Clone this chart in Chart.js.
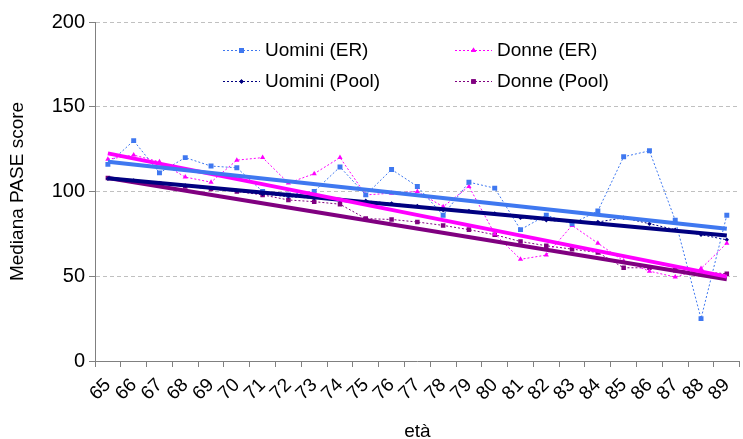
<!DOCTYPE html>
<html>
<head>
<meta charset="utf-8">
<script src="https://cdn.jsdelivr.net/npm/chart.js@4/dist/chart.umd.min.js"></script>
<style>
  html, body { margin: 0; padding: 0; background: #fff; overflow: hidden; }
  #wrap { position: relative; width: 750px; height: 439px; }
</style>
</head>
<body>
<div id="wrap"><canvas id="c"></canvas></div>
<script>
// ---- data ----
const ages = ['65','66','67','68','69','70','71','72','73','74','75','76','77','78','79','80','81','82','83','84','85','86','87','88','89'];
const uominiER   = [116, 130, 111, 120, 115, 114, 100, 98, 100, 114.5, 98, 113, 103, 86, 105.5, 102, 77.5, 86, 81, 88.5, 120.5, 124, 83, 25, 86];
const donneER    = [119, 121.5, 117.5, 108.5, 105.5, 118.5, 120, 105, 110.5, 120, 98, 99, 100, 91, 103, 75, 60, 62.5, 80, 69.5, 59, 53, 49.5, 54.5, 69.5];
const uominiPool = [107.5, 106.5, 105, 103.5, 102, 100.5, 98.5, 97, 96, 95, 94.5, 93, 91.5, 89, 88.5, 87, 84.5, 83, 82, 82, 84.5, 81, 77.5, 74.5, 71.5];
const donnePool  = [108, 106, 104.5, 103, 101.5, 100, 98, 95, 94, 92.5, 84, 83.5, 82, 80, 77.5, 74.5, 70.5, 68, 66, 64, 55, 55, 53.5, 52.5, 51.5];
// linear trend lines: value at first and last age
const trendUominiER   = [117.6, 78];
const trendDonneER    = [122.5, 49.8];
const trendUominiPool = [107.8, 74];
const trendDonnePool  = [108, 48.2];
const yTicks = [0, 50, 100, 150, 200];
const seriesNames = ['Uomini (ER)', 'Donne (ER)', 'Uomini (Pool)', 'Donne (Pool)'];

const C_BLUE = '#3f78f0', C_MAG = '#ff00ff', C_NAVY = '#000080', C_PURP = '#800080';
const FONT = '"Liberation Sans", Arial, sans-serif';

function series(label, data, color, style, r) {
  return { label, data, borderColor: color, backgroundColor: color, borderWidth: 1,
    borderDash: [2, 2], pointStyle: style, pointRadius: r, pointHoverRadius: r,
    pointBorderWidth: 0, tension: 0, fill: false, order: 2 };
}
function trend(vals, color) {
  return { label: '', data: [{x: ages[0], y: vals[0]}, {x: ages[ages.length - 1], y: vals[1]}],
    borderColor: color, borderWidth: 4, pointRadius: 0, pointHoverRadius: 0, fill: false, order: 1 };
}

const legendItems = [
  { text: seriesNames[0], color: C_BLUE, style: 'rect', r: 3.5, col: 0, row: 0 },
  { text: seriesNames[1], color: C_MAG,  style: 'triangle', r: 3, col: 1, row: 0 },
  { text: seriesNames[2], color: C_NAVY, style: 'rectRot', r: 2.2, col: 0, row: 1 },
  { text: seriesNames[3], color: C_PURP, style: 'rect', r: 3.2, col: 1, row: 1 }
];

const legendPlugin = {
  id: 'gridLegend',
  afterDraw(chart) {
    const ctx = chart.ctx;
    const colX = [223, 455];
    const rowY = [50, 81];
    ctx.save();
    legendItems.forEach(it => {
      const x0 = colX[it.col], y = rowY[it.row];
      ctx.strokeStyle = it.color; ctx.lineWidth = 1; ctx.setLineDash([2, 2]);
      ctx.beginPath(); ctx.moveTo(x0, y + 0.5); ctx.lineTo(x0 + 37, y + 0.5); ctx.stroke();
      ctx.setLineDash([]);
      ctx.fillStyle = it.color;
      Chart.helpers.drawPoint(ctx, { pointStyle: it.style, radius: it.r, rotation: 0, borderWidth: 0 }, x0 + 18.5, y + 0.5);
      ctx.fill();
      ctx.fillStyle = '#000';
      ctx.font = '19px ' + FONT;
      ctx.textBaseline = 'middle';
      ctx.textAlign = 'left';
      ctx.fillText(it.text, x0 + 42, y + 1);
    });
    ctx.restore();
  }
};

new Chart(document.getElementById('c'), {
  type: 'line',
  data: {
    labels: ages,
    datasets: [
      series(seriesNames[0], uominiER, C_BLUE, 'rect', 3.5),
      series(seriesNames[1], donneER, C_MAG, 'triangle', 3),
      series(seriesNames[2], uominiPool, C_NAVY, 'rectRot', 2.2),
      series(seriesNames[3], donnePool, C_PURP, 'rect', 3.2),
      trend(trendUominiER, C_BLUE),
      trend(trendDonneER, C_MAG),
      trend(trendUominiPool, C_NAVY),
      trend(trendDonnePool, C_PURP)
    ]
  },
  options: {
    responsive: true,
    maintainAspectRatio: false,
    animation: false,
    layout: { padding: { top: 22, right: 0, bottom: 0, left: 0 } },
    plugins: { legend: { display: false }, tooltip: { enabled: false } },
    scales: {
      x: {
        type: 'category',
        offset: true,
        grid: { offset: true, drawOnChartArea: false, drawTicks: true, tickLength: 6, color: '#808080', tickColor: '#808080' },
        border: { display: true, color: '#808080', width: 1 },
        ticks: { minRotation: 45, maxRotation: 45, autoSkip: false, padding: 7, color: '#000', font: { family: FONT, size: 19 } },
        title: { display: true, text: 'età', color: '#000', font: { family: FONT, size: 19, lineHeight: 0.75 }, padding: { top: 0, bottom: 0 } },
        afterFit(s) { s.height = 78; }
      },
      y: {
        min: 0, max: 200,
        afterBuildTicks(s) { s.ticks = yTicks.map(v => ({ value: v })); },
        grid: { color: '#c0c0c0', drawTicks: true, tickLength: 6, tickColor: '#808080', tickBorderDash: [] },
        border: { display: true, color: '#808080', width: 1, dash: [4, 3] },
        ticks: { padding: 4, color: '#000', font: { family: FONT, size: 20 } },
        title: { display: true, text: 'Mediana PASE score', color: '#000', font: { family: FONT, size: 19, lineHeight: 1.2 }, padding: { top: 6, bottom: 0 } },
        afterFit(s) { s.width = 95; }
      }
    }
  },
  plugins: [legendPlugin]
});
</script>
</body>
</html>
